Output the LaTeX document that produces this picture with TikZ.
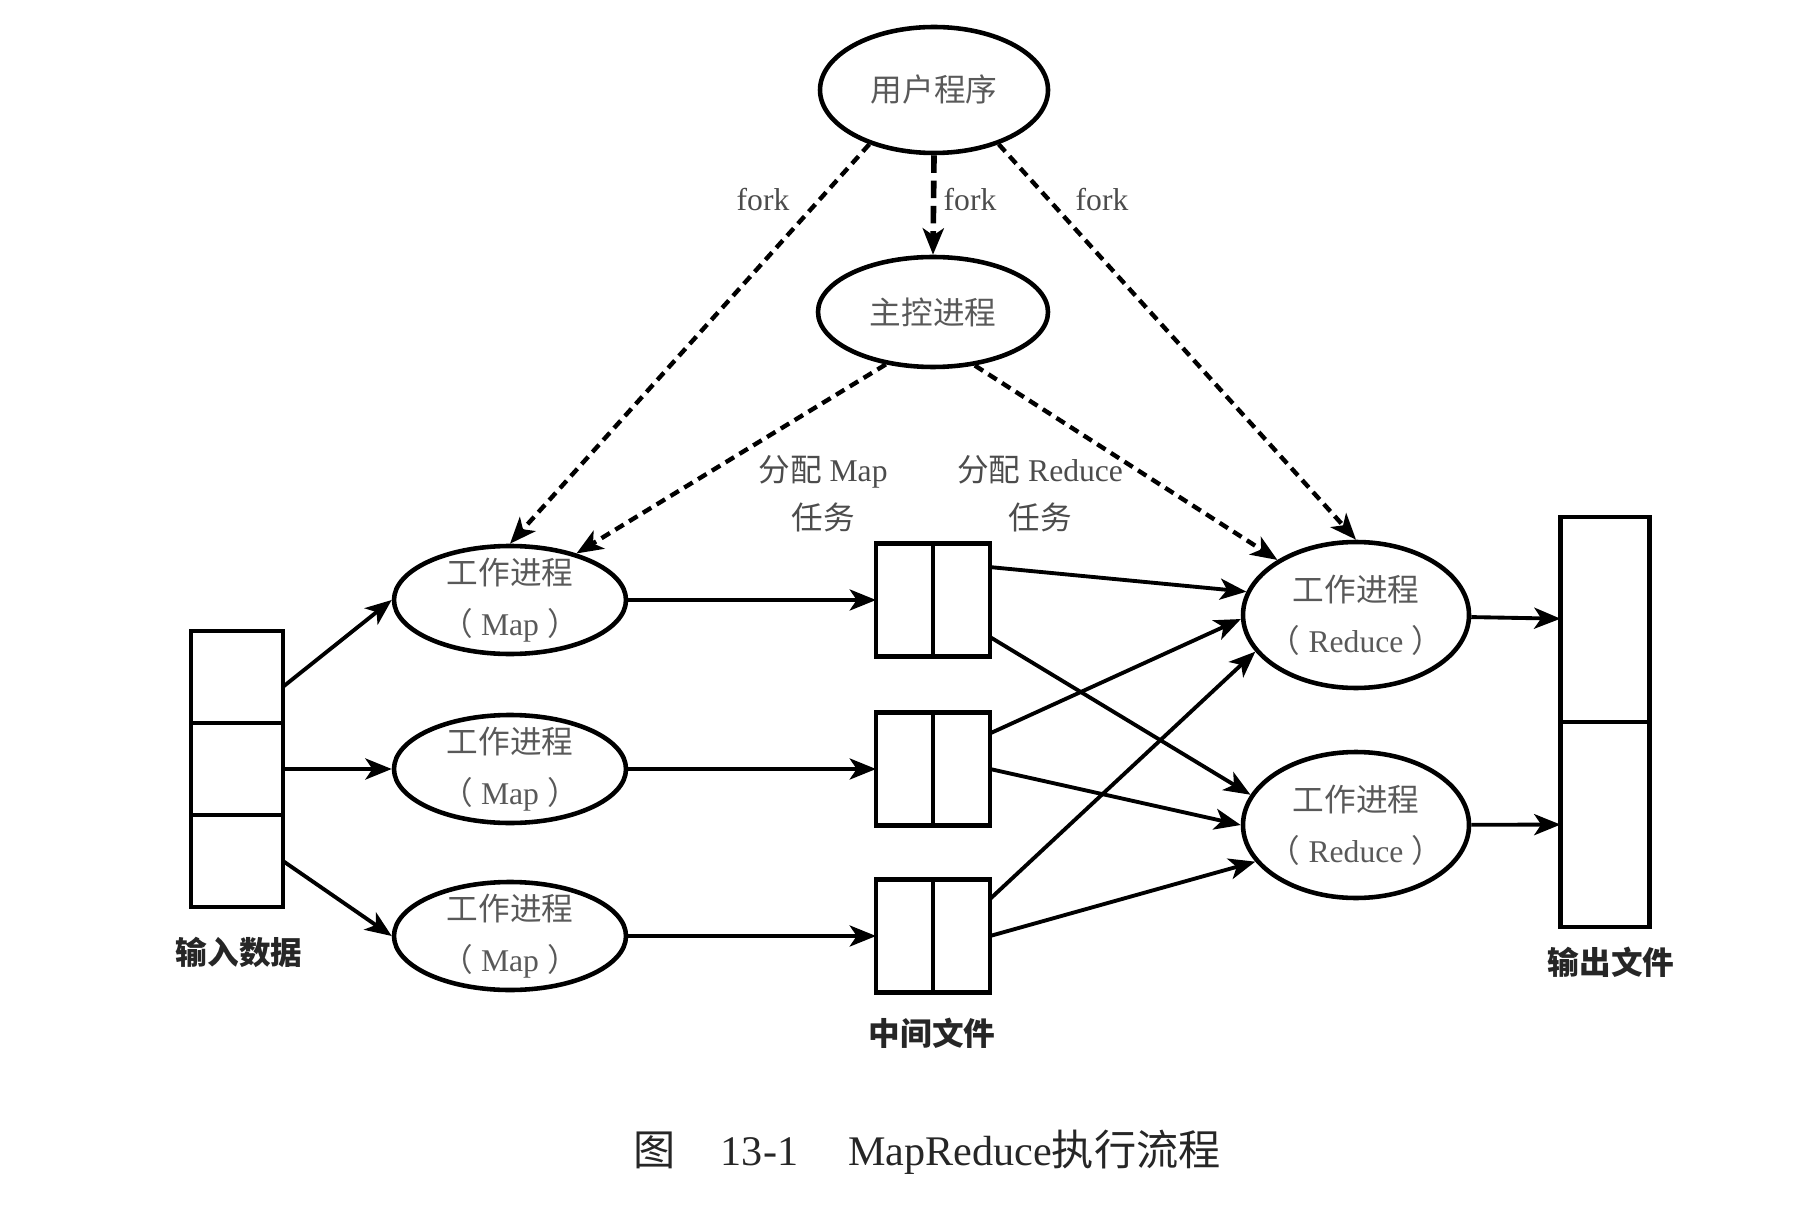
\documentclass[tikz,border=0pt]{standalone}
\usepackage{fontspec}
\setmainfont{Liberation Serif}
\newfontfamily\zhfont{Noto Sans CJK SC}
\newcommand{\zh}[1]{{\zhfont #1}}
\usetikzlibrary{arrows.meta,shapes.geometric,positioning}

\begin{document}
\begin{tikzpicture}[>={Stealth[length=7.5pt,width=6pt,inset=2pt]}, line width=1.1pt,
  font=\fontsize{9}{14.5}\selectfont,
  proc/.style={draw, ellipse, line width=1.3pt, inner sep=-4pt, align=center, text=black!65},
  mapproc/.style={proc, minimum width=2.32cm, minimum height=1.08cm},
  redproc/.style={proc, minimum width=2.26cm, minimum height=1.46cm},
  cell/.style={draw, rectangle, line width=1.2pt, inner sep=0pt, outer sep=0pt},
  incell/.style={cell, minimum width=0.92cm, minimum height=0.92cm},
  outcell/.style={cell, minimum width=0.89cm, minimum height=2.05cm},
  forkline/.style={->, dashed, line width=1.25pt, dash pattern=on 2.8pt off 1.8pt},
  tag/.style={text=black!70},
  boxlabel/.style={font=\fontsize{9}{11}\zhfont\bfseries, text=black!85}]
  \useasboundingbox (0,0) rectangle (18.14,-12.16);

  \node[proc, minimum width=2.28cm, minimum height=1.26cm] (user) at (9.34,-0.90) {\zh{用户程序}};
  \node[proc, minimum width=2.30cm, minimum height=1.10cm] (master) at (9.33,-3.12) {\zh{主控进程}};

  % input splits
  \node[incell] (in2) at (2.37,-7.69) {};
  \node[incell, above=0pt of in2] (in1) {};
  \node[incell, below=0pt of in2] (in3) {};
  \node[boxlabel] (inlab) at (2.39,-9.52) {输入数据};

  % map workers and intermediate files
  \foreach \i/\y/\a in {1/-6.00/-12,2/-7.69/0,3/-9.36/0} {
    \node[mapproc] (map\i) at (5.10,\y) {\zh{工作进程}\\\zh{（}\hspace{0.08cm}Map\hspace{0.08cm}\zh{）}};
    \node[cell, minimum width=1.14cm, minimum height=1.13cm] (f\i) at (9.33,\y) {};
    \draw[line width=1.3pt] (f\i.north) -- (f\i.south);
    \draw[->] (in\i.\a) -- (map\i.west);
    \draw[->] (map\i) -- (f\i);
  }
  \node[boxlabel] (flab) at (9.32,-10.33) {中间文件};

  % reduce workers and output
  \node[redproc] (r1) at (13.56,-6.15) {\zh{工作进程}\\\zh{（}\hspace{0.08cm}Reduce\hspace{0.08cm}\zh{）}};
  \node[redproc] (r2) at (13.56,-8.25) {\zh{工作进程}\\\zh{（}\hspace{0.08cm}Reduce\hspace{0.08cm}\zh{）}};
  \node[outcell] (o1) at (16.05,-6.195) {};
  \node[outcell, below=0pt of o1] (o2) {};
  \node[boxlabel] (olab) at (16.11,-9.62) {输出文件};

  \draw[->] (f1.30) -- (r1.168);
  \draw[->] (f1.-33) -- (r2.164);
  \draw[->] (f2.32) -- (r1.182);
  \draw[->] (f2.east) -- (r2.180);
  \draw[->] (f3.33) -- (r1.200);
  \draw[->] (f3.east) -- (r2.200);
  \draw[->] (r1) -- (o1);
  \draw[->] (r2) -- (o2);

  % fork and assignment
  \draw[->, dashed, line width=1.6pt, dash pattern=on 5pt off 2.2pt] (user.south) -- (master.north);
  \draw[forkline] (user.220) -- (map1.north);
  \draw[forkline] (user.320) -- (r1.north);
  \draw[forkline] (master.228) -- (map1.35);
  \draw[forkline] (master.308) -- (r1.145);

  \node[tag] (fork1) at (7.63,-2.00) {fork};
  \node[tag] (fork2) at (9.70,-2.00) {fork};
  \node[tag] (fork3) at (11.02,-2.00) {fork};
  \node[tag, align=center, font=\fontsize{9}{13.7}\selectfont] (amap) at (8.23,-4.94) {\zh{分配} Map\\\zh{任务}};
  \node[tag, align=center, font=\fontsize{9}{13.7}\selectfont] (ared) at (10.40,-4.94) {\zh{分配} Reduce\\\zh{任务}};

  \node[anchor=west, font=\fontsize{12}{14}\selectfont, text=black!85] (cap) at (6.20,-11.52)
    {\zh{图}\hspace{0.45cm}13-1\hspace{0.5cm}MapReduce\zh{执行流程}};
\end{tikzpicture}
\end{document}
